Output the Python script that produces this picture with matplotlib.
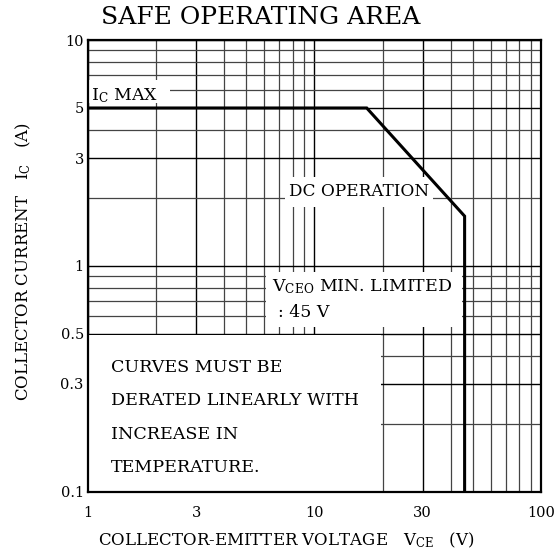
import matplotlib
matplotlib.use('Agg')
import matplotlib.pyplot as plt
from matplotlib.ticker import LogLocator, NullFormatter
from matplotlib.patches import Rectangle

# SOA boundary
vce = [1, 17, 46, 46]
ic = [5, 5, 1.66, 0.1]

x_ticks = [1, 3, 10, 30, 100]
x_labels = ['1', '3', '10', '30', '100']
y_ticks = [0.1, 0.3, 0.5, 1, 3, 5, 10]
y_labels = ['0.1', '0.3', '0.5', '1', '3', '5', '10']

note_lines = ['CURVES MUST BE', 'DERATED LINEARLY WITH',
              'INCREASE IN', 'TEMPERATURE.']

plt.rcParams['font.family'] = ['DejaVu Serif']
plt.rcParams['mathtext.fontset'] = 'dejavuserif'

fig = plt.figure(figsize=(5.58, 5.57), dpi=100)
ax = fig.add_axes([88/558, 1-491.7/557, 453/558, 451.7/557])

ax.plot(vce, ic, color='black', lw=2.2, zorder=3, solid_joinstyle='miter')

ax.set_xscale('log')
ax.set_yscale('log')
ax.set_xlim(1, 100)
ax.set_ylim(0.1, 10)

ax.set_xticks(x_ticks)
ax.set_xticklabels(x_labels)
ax.set_yticks(y_ticks)
ax.set_yticklabels(y_labels)
ax.xaxis.set_minor_locator(LogLocator(base=10, subs=range(2, 10)))
ax.yaxis.set_minor_locator(LogLocator(base=10, subs=range(2, 10)))
ax.xaxis.set_minor_formatter(NullFormatter())
ax.yaxis.set_minor_formatter(NullFormatter())
ax.tick_params(which='both', length=0)
ax.tick_params(axis='x', pad=10, labelsize=10.5)
ax.tick_params(axis='y', pad=3, labelsize=10.5)

ax.grid(True, which='major', color='black', lw=1.0)
ax.grid(True, which='minor', color='#444444', lw=0.9)
for s in ax.spines.values():
    s.set_linewidth(1.6)
    s.set_zorder(5)

# white areas behind the labels
boxes = [(0.0, 0.8605, 0.181, 0.0505),
         (0.435, 0.630, 0.327, 0.067),
         (0.392, 0.3648, 0.434, 0.1218),
         (0.0, 0.0, 0.6475, 0.3465)]
for bx, by, bw, bh in boxes:
    ax.add_patch(Rectangle((bx, by), bw, bh, transform=ax.transAxes,
                           facecolor='white', edgecolor='none', zorder=2))

ax.text(0.006, 0.876, r'I$_{\mathrm{C}}$ MAX', transform=ax.transAxes,
        ha='left', va='center', fontsize=12.5, zorder=4)
ax.text(0.598, 0.6635, 'DC OPERATION', transform=ax.transAxes,
        ha='center', va='center', fontsize=12.2, zorder=4)
ax.text(0.406, 0.453, r'V$_{\mathrm{CEO}}$ MIN. LIMITED', transform=ax.transAxes,
        ha='left', va='center', fontsize=12.5, zorder=4)
ax.text(0.419, 0.396, ': 45 V', transform=ax.transAxes,
        ha='left', va='center', fontsize=12.5, zorder=4)

note_y = [0.276, 0.203, 0.126, 0.053]
for line, yy in zip(note_lines, note_y):
    ax.text(0.051, yy, line, transform=ax.transAxes,
            ha='left', va='center', fontsize=12.6, zorder=4)

fig.text(260.5/558, 1-18/557, 'SAFE OPERATING AREA', ha='center', va='center',
         fontsize=18)
fig.text(286/558, 1-540/557, r'COLLECTOR-EMITTER VOLTAGE   V$_{\mathrm{CE}}$   (V)',
         ha='center', va='center', fontsize=12)
fig.text(23/558, 1-262/557, r'COLLECTOR CURRENT   I$_{\mathrm{C}}$   (A)',
         ha='center', va='center', rotation=90, fontsize=12)

fig.savefig('out.png', dpi=100)
